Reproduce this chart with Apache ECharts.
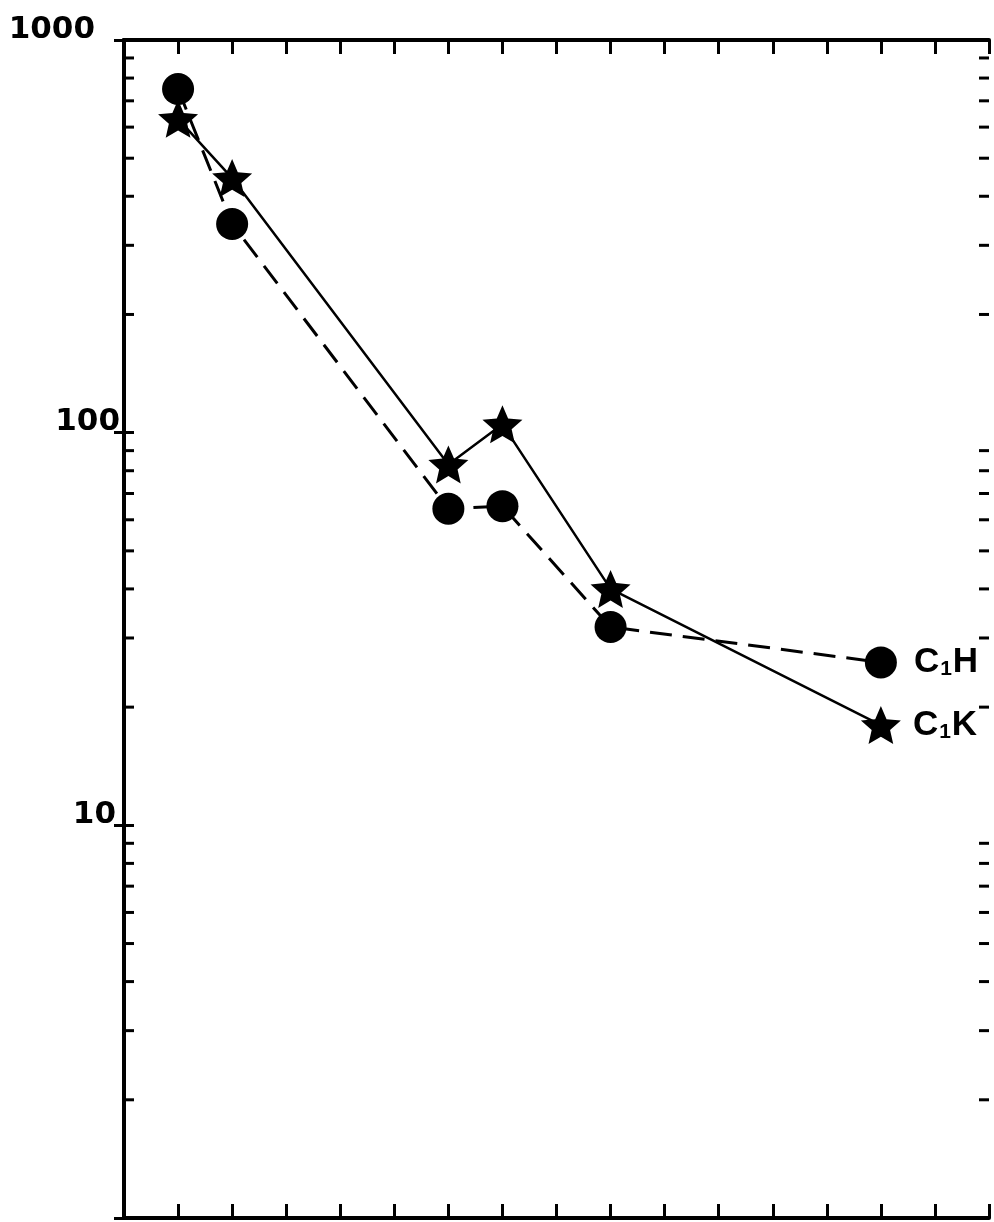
<!DOCTYPE html>
<html>
<head>
<meta charset="utf-8">
<script src="https://cdn.jsdelivr.net/npm/echarts@6/dist/echarts.min.js"></script>
<style>
html, body { margin: 0; padding: 0; background: #fff; }
#chart { width: 994px; height: 1222px; }
</style>
</head>
<body>
<div id="chart"></div>
<script>
var xData = [1, 2, 6, 7, 9, 14];
var c1h = [750, 340, 64, 65, 32, 26];
var c1k = [630, 445, 83, 105, 40, 18];
var yTicks = [1, 10, 100, 1000];
var mantissas = [2, 3, 4, 5, 6, 7, 8, 9];
var decades = [1, 10, 100];

var minorTicks = [];
decades.forEach(function (d) {
    mantissas.forEach(function (m) { minorTicks.push([0, m * d]); });
});

function starPath(outer, inner) {
    var pts = [];
    for (var i = 0; i < 10; i++) {
        var r = i % 2 ? inner : outer;
        var a = -Math.PI / 2 + i * Math.PI / 5;
        pts.push((50 + r * Math.cos(a)).toFixed(1) + ',' + (50 + r * Math.sin(a)).toFixed(1));
    }
    return 'path://M' + pts.join(' L') + ' Z';
}
var star = starPath(50, 23);

function pairs(xs, ys) {
    return xs.map(function (x, i) { return [x, ys[i]]; });
}

var letter = { fontFamily: 'Liberation Sans', fontWeight: 'bold', fontSize: 35, color: '#000' };
var sub = { fontFamily: 'Liberation Sans', fontWeight: 'bold', fontSize: 21, color: '#000', padding: [14, 1, 0, 1] };

function lastLabel(data, text, dist) {
    var out = data.slice();
    var last = out[out.length - 1];
    out[out.length - 1] = {
        value: last,
        label: {
            show: true,
            position: 'right',
            distance: dist,
            formatter: '{a|C}{s|1}{a|' + text + '}',
            rich: { a: letter, s: sub }
        }
    };
    return out;
}

var axisLine = { show: true, lineStyle: { color: '#000', width: 4 } };
var digit = { fontFamily: 'DejaVu Sans', fontWeight: 'bold', fontSize: 31, color: '#000', lineHeight: 21 };

var myChart = echarts.init(document.getElementById('chart'));
var option = {
    backgroundColor: '#fff',
    animation: false,
    grid: { left: 124, right: 5, top: 40, bottom: 4 },
    xAxis: [{
        type: 'value', min: 0, max: 16, interval: 1, position: 'bottom',
        axisLine: axisLine,
        axisTick: { inside: true, length: 14, lineStyle: { color: '#000', width: 3 } },
        axisLabel: { show: false },
        splitLine: { show: false }
    }, {
        type: 'value', min: 0, max: 16, interval: 1, position: 'top',
        axisLine: axisLine,
        axisTick: { inside: true, length: 14, lineStyle: { color: '#000', width: 3 } },
        axisLabel: { show: false },
        splitLine: { show: false }
    }],
    yAxis: [{
        type: 'log', logBase: 10, min: yTicks[0], max: yTicks[3], position: 'left',
        axisLine: axisLine,
        axisTick: { inside: true, length: 10, lineStyle: { color: '#000', width: 3 } },
        axisLabel: {
            margin: 2,
            verticalAlign: 'bottom',
            lineHeight: 21,
            fontFamily: 'DejaVu Sans',
            fontWeight: 'bold',
            fontSize: 31,
            color: '#000',
            formatter: function (v) {
                if (v === 1000) return '{t|1000}';
                if (v === 100) return '{h|100}';
                if (v === 10) return '{d|10}';
                return '';
            },
            rich: {
                t: Object.assign({ padding: [0, 27, 0, 0] }, digit),
                h: Object.assign({ padding: [0, 2, 0, 0] }, digit),
                d: Object.assign({ padding: [0, 6, 0, 0] }, digit)
            }
        },
        splitLine: { show: false }
    }, {
        type: 'log', logBase: 10, min: yTicks[0], max: yTicks[3], position: 'right',
        axisLine: axisLine,
        axisTick: { inside: true, length: 10, lineStyle: { color: '#000', width: 3 } },
        axisLabel: { show: false },
        splitLine: { show: false }
    }],
    series: [{
        name: 'minor',
        type: 'custom',
        silent: true,
        clip: false,
        data: minorTicks,
        renderItem: function (params, api) {
            var v = api.value(1);
            var l = api.coord([0, v]);
            var r = api.coord([16, v]);
            var st = { stroke: '#000', lineWidth: 3 };
            return {
                type: 'group',
                children: [
                    { type: 'line', shape: { x1: l[0], y1: l[1], x2: l[0] + 10, y2: l[1] }, style: st },
                    { type: 'line', shape: { x1: r[0] - 10, y1: r[1], x2: r[0], y2: r[1] }, style: st }
                ]
            };
        }
    }, {
        name: 'C1H',
        type: 'line',
        data: lastLabel(pairs(xData, c1h), 'H', 17),
        symbol: 'circle',
        symbolSize: 32,
        itemStyle: { color: '#000' },
        lineStyle: { color: '#000', width: 3, type: [22, 11] }
    }, {
        name: 'C1K',
        type: 'line',
        data: lastLabel(pairs(xData, c1k), 'K', 12),
        symbol: star,
        symbolSize: 40,
        symbolKeepAspect: true,
        itemStyle: { color: '#000' },
        lineStyle: { color: '#000', width: 2.5 }
    }]
};
myChart.setOption(option);
</script>
</body>
</html>
